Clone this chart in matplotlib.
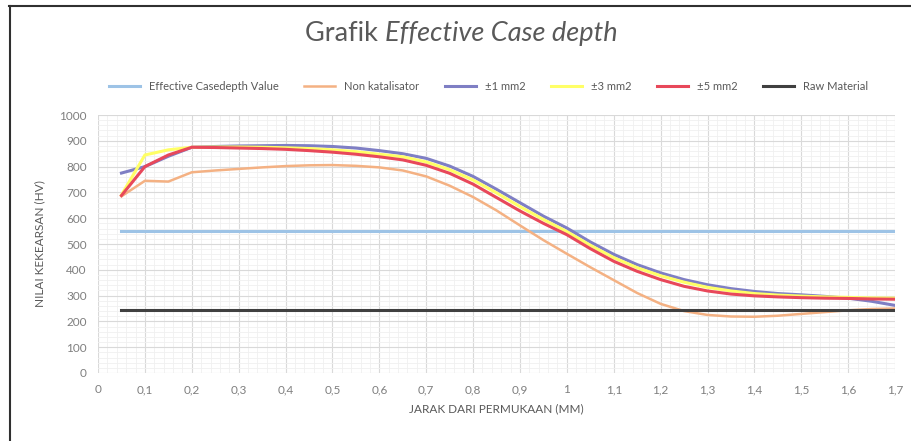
#!/usr/bin/env python
import matplotlib
matplotlib.use('Agg')
import numpy as np
import matplotlib.pyplot as plt
from matplotlib.lines import Line2D
from matplotlib.ticker import MultipleLocator, FuncFormatter

plt.rcParams['font.family'] = ['Lato', 'DejaVu Sans']

# DATA
jarak = [0.05, 0.10, 0.15, 0.20, 0.25, 0.30, 0.35, 0.40, 0.45, 0.50,
         0.55, 0.60, 0.65, 0.70, 0.75, 0.80, 0.85, 0.90, 0.95, 1.00,
         1.05, 1.10, 1.15, 1.20, 1.25, 1.30, 1.35, 1.40, 1.45, 1.50,
         1.55, 1.60, 1.65, 1.70]
effective_value = [550] * len(jarak)
raw_material = [245] * len(jarak)
non_katalisator = [685, 745, 742, 778, 785, 791, 797, 802, 805, 806,
                   803, 797, 785, 762, 726, 682, 630, 572, 515, 462,
                   410, 360, 310, 268, 240, 225, 219, 218, 222, 229,
                   236, 243, 248, 250]
mm1 = [775, 800, 840, 875, 878, 880, 881, 882, 881, 878,
       872, 862, 850, 832, 802, 762, 712, 660, 608, 562,
       508, 460, 420, 388, 362, 342, 327, 316, 308, 303,
       297, 290, 278, 262]
mm3 = [690, 845, 865, 875, 876, 876, 875, 873, 870, 865,
       858, 848, 838, 818, 788, 748, 698, 645, 595, 548,
       495, 447, 408, 377, 352, 332, 318, 308, 302, 298,
       295, 293, 291, 290]
mm5 = [688, 800, 845, 875, 874, 872, 870, 867, 862, 856,
       848, 838, 826, 805, 774, 732, 680, 628, 580, 536,
       482, 433, 394, 362, 336, 318, 306, 299, 295, 292,
       290, 289, 287, 286]

fig = plt.figure(figsize=(9.11, 4.41), dpi=100)
ax = fig.add_axes([0.1076, 0.1542, 0.8749, 0.585])

ax.plot(jarak, effective_value, color='#9DC3E6', lw=2.2, label='Effective Casedepth Value')
ax.plot(jarak, non_katalisator, color='#F4B183', lw=1.8, label='Non katalisator')
ax.plot(jarak, mm1, color='#7F7FC4', lw=2.2, label=u'\u00b11 mm2')
ax.plot(jarak, mm3, color='#FFFF66', lw=2.2, label=u'\u00b13 mm2')
ax.plot(jarak, mm5, color='#E8485A', lw=2.2, label=u'\u00b15 mm2')
ax.plot(jarak, raw_material, color='#404040', lw=2.2, label='Raw Material')

# Axes
ax.set_xlim(0, 1.7)
ax.set_ylim(0, 1000)
ax.xaxis.set_major_locator(MultipleLocator(0.1))
ax.xaxis.set_minor_locator(MultipleLocator(0.02))
ax.yaxis.set_major_locator(MultipleLocator(100))
ax.yaxis.set_minor_locator(MultipleLocator(20))
ax.xaxis.set_major_formatter(FuncFormatter(lambda v, p: ('%g' % round(v, 1)).replace('.', ',')))
ax.grid(True, which='major', color='#D9D9D9', lw=0.8)
ax.grid(True, which='minor', color='#F0F0F0', lw=0.6)
ax.set_axisbelow(True)
for s in ax.spines.values():
    s.set_visible(False)
ax.tick_params(which='both', length=0, colors='#7F7F7F', labelsize=8.5, pad=8)

ax.set_xlabel('JARAK DARI PERMUKAAN (MM)', fontsize=8.5, color='#595959', labelpad=6)
ax.set_ylabel('NILAI KEKEARSAN (HV)', fontsize=8.5, color='#595959', labelpad=10)

# Title: regular + italic part, centred together
t1 = fig.text(0, 0.925, 'Grafik ', ha='left', va='center', fontsize=19.5, color='#595959')
t2 = fig.text(0, 0.925, 'Effective Case depth', ha='left', va='center', fontsize=19.5,
              color='#595959', style='italic')
fig.canvas.draw()
r = fig.canvas.get_renderer()
w1 = t1.get_window_extent(r).width / fig.bbox.width
w2 = t2.get_window_extent(r).width / fig.bbox.width
x0 = 0.506 - (w1 + w2) / 2
t1.set_x(x0)
t2.set_x(x0 + w1)

# Legend
fig.legend(loc='center', bbox_to_anchor=(0.536, 0.803), ncol=6, frameon=False,
           fontsize=8, labelcolor='#595959', handlelength=2.8, columnspacing=2.3)

# Frame
fig.add_artist(Line2D([0.01, 1.0], [0.986, 0.986], color='#303030', lw=1.5))
fig.add_artist(Line2D([0.0105, 0.0105], [0.0, 0.986], color='#303030', lw=1.5))

plt.savefig('out.png')
